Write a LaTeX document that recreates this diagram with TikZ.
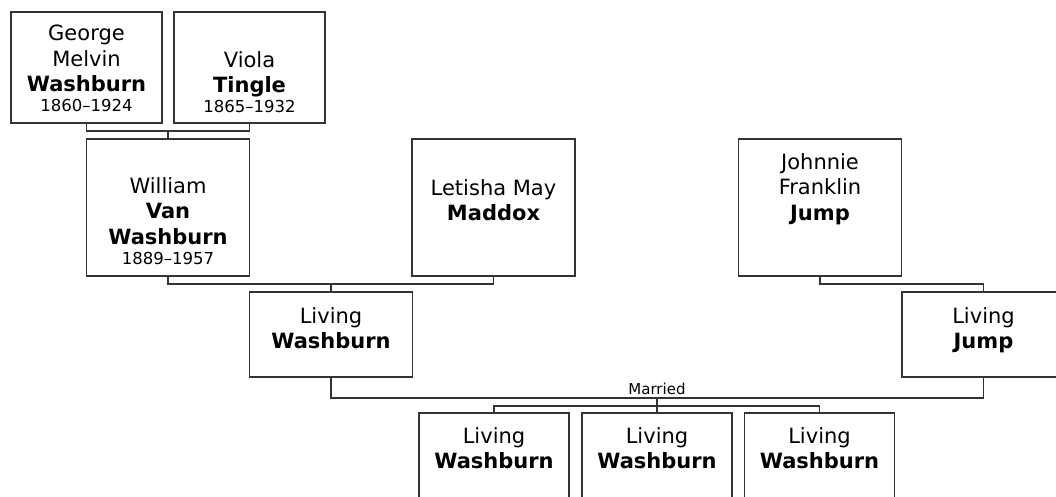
\documentclass[tikz,border=0pt]{standalone}
\usepackage{fontspec}
\setmainfont{DejaVu Sans}
\newcommand\namefont{\fontsize{21}{25.5}\selectfont}
\newcommand\datefont{\fontsize{16.5}{19}\selectfont}
\tikzset{
  pbox/.style={draw=black!80, line width=1.3pt, fill=white, inner sep=0pt},
  topbox/.style={pbox, minimum width=151pt, minimum height=111pt},
  midbox/.style={pbox, minimum width=163pt, minimum height=137pt},
  livbox/.style={pbox, minimum width=163pt, minimum height=85pt},
  kidbox/.style={pbox, minimum width=150pt, minimum height=85pt},
  ptext/.style={anchor=north, align=center, inner sep=0pt, font=\namefont, text=black},
  conn/.style={draw=black!80, line width=1.3pt},
  mlabel/.style={anchor=base, inner sep=0pt, font=\fontsize{15}{18}\selectfont, text=black}
}
\begin{document}
\begin{tikzpicture}[x=1pt, y=-1pt]
\useasboundingbox (0,0) rectangle (1056,496);
\clip (0,0) rectangle (1056,496);
\fill[white] (0,0) rectangle (1056,496);

% boxes
\node[topbox] (george) at (86.5,67.5) {};
\node[topbox] (viola) at (249.5,67.5) {};
\node[midbox] (william) at (168,207.5) {};
\node[midbox] (letisha) at (493.5,207.5) {};
\node[midbox] (johnnie) at (820,207.5) {};
\node[livbox] (livw) at (331,334.5) {};
\node[livbox] (livj) at (983.5,334.5) {};
\node[kidbox] (kida) at (494,455.5) {};
\node[kidbox] (kidb) at (657,455.5) {};
\node[kidbox] (kidc) at (819.5,455.5) {};

% texts
\node[ptext] (georgeT) at (86.5,25) {George\\Melvin\\\textbf{Washburn}\\[-5.5pt]{\datefont 1860–1924}};
\node[ptext] (violaT) at (249.5,51) {Viola\\\textbf{Tingle}\\[-5.5pt]{\datefont 1865–1932}};
\node[ptext] (williamT) at (168,177) {William\\\textbf{Van}\\\textbf{Washburn}\\[-5.5pt]{\datefont 1889–1957}};
\node[ptext] (letishaT) at (493.5,179) {Letisha May\\\textbf{Maddox}};
\node[ptext] (johnnieT) at (820,153) {Johnnie\\Franklin\\\textbf{Jump}};
\node[ptext] (livwT) at (331,307) {Living\\\textbf{Washburn}};
\node[ptext] (livjT) at (983.5,307) {Living\\\textbf{Jump}};
\node[ptext] (kidaT) at (494,427) {Living\\\textbf{Washburn}};
\node[ptext] (kidbT) at (657,427) {Living\\\textbf{Washburn}};
\node[ptext] (kidcT) at (819.5,427) {Living\\\textbf{Washburn}};

% connector points
\coordinate (gv) at (168,131);
\coordinate (wl) at (331,284);
\coordinate (jl) at (983.5,284);
\coordinate (mar) at (657,398);
\coordinate (sib) at (657,406);

% connectors
\draw[conn] (george.south) |- (gv) -| (viola.south);
\draw[conn] (gv) -- (william.north);
\draw[conn] (william.south) |- (wl) -| (letisha.south);
\draw[conn] (wl) -- (livw.north);
\draw[conn] (johnnie.south) |- (jl) -- (livj.north);
\draw[conn] (livw.south) |- (mar) -| (livj.south);
\draw[conn] (mar) -- (kidb.north);
\draw[conn] (kida.north) |- (sib) -| (kidc.north);

\node[mlabel] (married) at (657,394.5) {Married};
\end{tikzpicture}
\end{document}
